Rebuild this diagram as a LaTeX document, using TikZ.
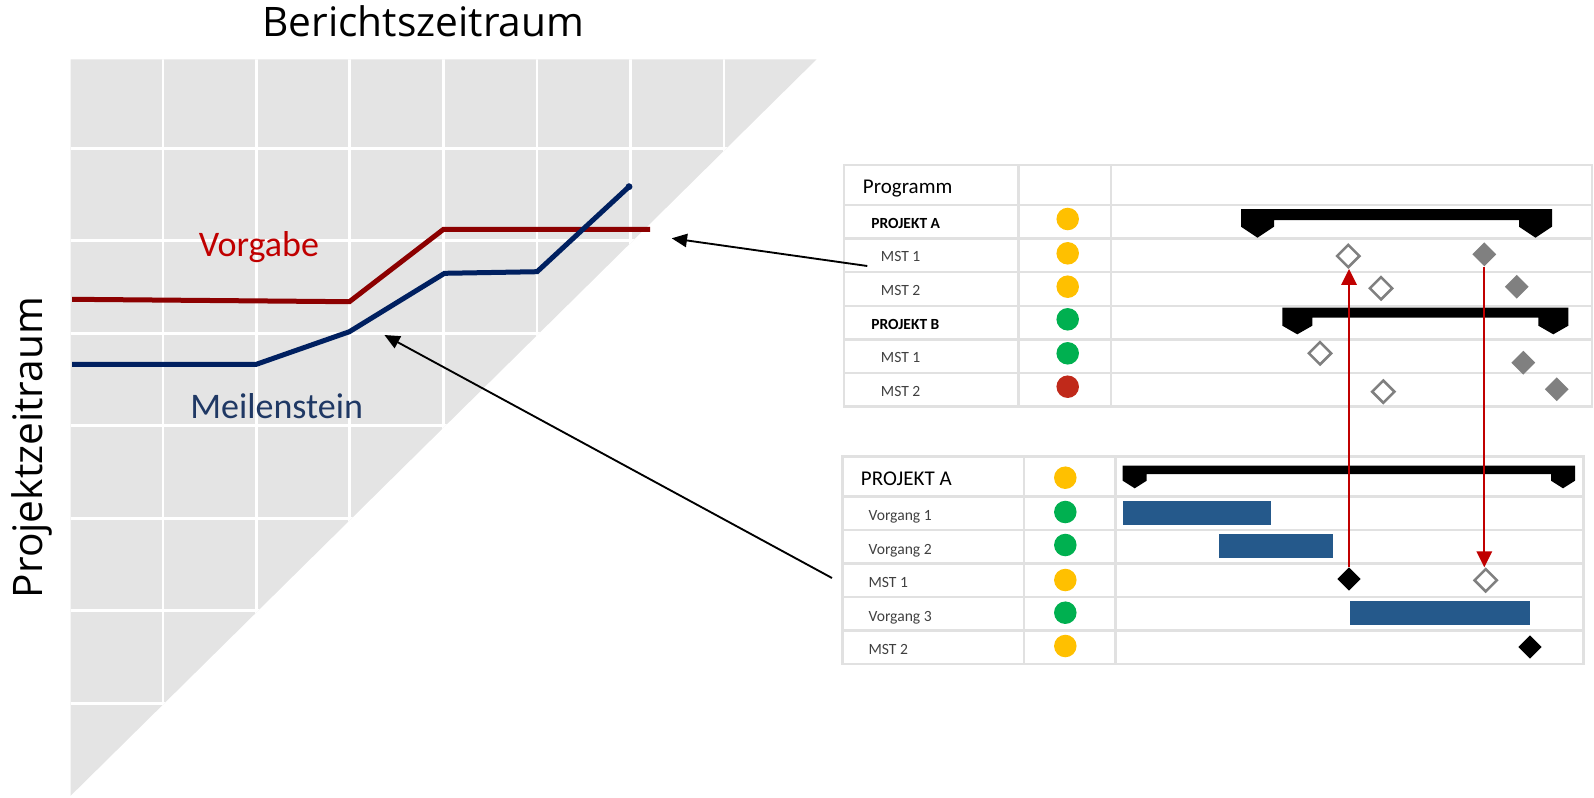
\documentclass[tikz,border=0pt]{standalone}
\usepackage{fontspec}
\setmainfont{Carlito}
\newfontfamily\osans{Open Sans}
\usetikzlibrary{shapes.geometric,arrows.meta}
\definecolor{trigray}{RGB}{228,228,228}
\definecolor{vred}{RGB}{140,0,0}
\definecolor{vtext}{RGB}{192,0,0}
\definecolor{mblue}{RGB}{0,32,96}
\definecolor{mtext}{RGB}{31,56,100}
\definecolor{tline}{RGB}{225,225,225}
\definecolor{ampy}{RGB}{255,192,0}
\definecolor{ampg}{RGB}{0,176,80}
\definecolor{ampr}{RGB}{192,41,26}
\definecolor{taskblue}{RGB}{37,89,139}
\definecolor{msgray}{RGB}{128,128,128}
\definecolor{arrred}{RGB}{192,0,0}
\definecolor{txtgray}{RGB}{64,64,64}
\newcommand\sumbar[7]{\fill (#1,#3) -- (#2,#3) -- (#2,#6) -- ({#2-#5/2},#7) -- ({#2-#5},#6) -- ({#2-#5},#4) -- ({#1+#5},#4) -- ({#1+#5},#6) -- ({#1+#5/2},#7) -- (#1,#6) -- cycle;}
\begin{document}
\begin{tikzpicture}[x=0.75pt,y=-0.75pt,
  tgrid/.style={draw=tline,line width=1.9pt},
  amp/.style={circle,inner sep=0pt,minimum size=16.9pt},
  msfill/.style={diamond,inner sep=0pt,minimum width=18pt,minimum height=18pt,fill=msgray},
  mshollow/.style={diamond,inner sep=0pt,minimum width=17.5pt,minimum height=17.5pt,draw=msgray,line width=1.9pt,fill=white},
  msblack/.style={diamond,inner sep=0pt,minimum width=17.6pt,minimum height=17.6pt,fill=black},
  task/.style={fill=taskblue},
  lbl/.style={anchor=base west,inner sep=0pt},
  hdr/.style={lbl,font=\fontsize{15.75pt}{18pt}\selectfont},
  projt/.style={lbl,font=\fontsize{11.6pt}{14pt}\selectfont\bfseries},
  subt/.style={lbl,font=\fontsize{11.7pt}{14pt}\selectfont,text=txtgray},
  redarr/.style={draw=arrred,line width=1.7pt,-{Triangle[length=12pt,width=11.5pt]}},
  blkarr/.style={draw=black,line width=1.4pt,-{Triangle[length=11.5pt,width=10pt]}},
  bigtitle/.style={font=\osans\fontsize{30.5pt}{36pt}\selectfont,anchor=base,inner sep=0pt},
  curvelbl/.style={font=\fontsize{27pt}{32pt}\selectfont,anchor=base,inner sep=0pt},
]
\useasboundingbox (0,0) rectangle (1594,797);
% left triangle grid
\fill[trigray] (70.6,59.3) -- (816.6,59.3) -- (70.6,795.8) -- cycle;
\begin{scope}
\clip (70.6,59.3) -- (816.6,59.3) -- (70.6,795.8) -- cycle;
\foreach \cx in {163,256.5,349.5,443.3,537,630.5,724}
  \draw[white,line width=2pt] (\cx,59.3) -- (\cx,795.8);
\foreach \ry in {148.3,240.8,333.3,425.8,518.3,610.8,703.3}
  \draw[white,line width=2pt] (70.6,\ry) -- (816.6,\ry);
\end{scope}
% curves
\draw[vred,line width=3.75pt] (72.2,299.3) -- (349.4,301.7) -- (443.5,229.3) -- (650,229.3);
\draw[mblue,line width=3.75pt] (72.2,364.3) -- (256.3,364.3) -- (349.4,331.7) -- (444.5,273.3) -- (537.1,271.7) -- (629,186.7);
\fill[mblue] (629,186.7) circle (2.6pt);
% titles
\node[bigtitle] (bz) at (423.3,36.7) {Berichtszeitraum};
\node[bigtitle,rotate=90] (pz) at (42,447.5) {Projektzeitraum};
\node[curvelbl,text=vtext] (vg) at (258.9,256) {Vorgabe};
\node[curvelbl,text=mtext] (ms) at (276.7,418.3) {Meilenstein};
% table 1
\draw[tgrid] (844,165) rectangle (1592,406.6);
\foreach \ry in {205,238.6,272.2,305.8,339.4,373}
  \draw[tgrid] (844,\ry) -- (1592,\ry);
\draw[tgrid] (1018.5,165) -- (1018.5,406.6);
\draw[tgrid] (1111,165) -- (1111,406.6);
\node[hdr] (t1h) at (862.7,193.3) {Programm};
\node[projt] (t1pa) at (871,228.3) {PROJEKT A};
\node[subt] (t1a1) at (880.7,261.7) {MST 1};
\node[subt] (t1a2) at (880.7,295.3) {MST 2};
\node[projt] (t1pb) at (871,329.1) {PROJEKT B};
\node[subt] (t1b1) at (880.7,362.5) {MST 1};
\node[subt] (t1b2) at (880.7,396.1) {MST 2};
\node[amp,fill=ampy] (c1) at (1067.7,219) {};
\node[amp,fill=ampy] (c2) at (1067.7,253.3) {};
\node[amp,fill=ampy] (c3) at (1067.7,286.7) {};
\node[amp,fill=ampg] (c4) at (1067.7,319.3) {};
\node[amp,fill=ampg] (c5) at (1067.7,353.3) {};
\node[amp,fill=ampr] (c6) at (1067.7,386.7) {};
\sumbar{1241}{1552}{209}{220}{33}{226.7}{237.7}
\sumbar{1282.3}{1568.3}{307.7}{317.7}{30}{325.7}{334.3}
\node[mshollow] (t1a1h) at (1348.3,256) {};
\node[msfill] (t1a1f) at (1484.3,254.3) {};
\node[mshollow] (t1a2h) at (1381,288.3) {};
\node[msfill] (t1a2f) at (1516.7,286.7) {};
\node[mshollow] (t1b1h) at (1320,353.3) {};
\node[msfill] (t1b1f) at (1523.3,362.7) {};
\node[mshollow] (t1b2h) at (1383.3,391.7) {};
\node[msfill] (t1b2f) at (1556.7,389.3) {};
% table 2
\draw[tgrid] (842.7,456.7) rectangle (1583.5,664.2);
\foreach \ry in {496.7,530.2,563.7,597.2,630.7}
  \draw[tgrid] (842.7,\ry) -- (1583.5,\ry);
\draw[tgrid] (1024,456.7) -- (1024,664.2);
\draw[tgrid] (1115.5,456.7) -- (1115.5,664.2);
\node[hdr] (t2h) at (860.7,485) {PROJEKT A};
\node[subt] (t2v1) at (868.3,520.7) {Vorgang 1};
\node[subt] (t2v2) at (868.3,554.2) {Vorgang 2};
\node[subt] (t2m1) at (868.3,587.7) {MST 1};
\node[subt] (t2v3) at (868.3,621.2) {Vorgang 3};
\node[subt] (t2m2) at (868.3,654.7) {MST 2};
\node[amp,fill=ampy] (d1) at (1065.3,477.7) {};
\node[amp,fill=ampg] (d2) at (1065.3,512) {};
\node[amp,fill=ampg] (d3) at (1065.3,545) {};
\node[amp,fill=ampy] (d4) at (1065.3,580) {};
\node[amp,fill=ampg] (d5) at (1065.3,612.7) {};
\node[amp,fill=ampy] (d6) at (1065.3,646) {};
\sumbar{1122.7}{1575}{465.7}{474}{24}{480.7}{488.3}
\fill[task] (1122.7,501) rectangle (1271,525);
\fill[task] (1219,534) rectangle (1332.7,557.7);
\fill[task] (1350,601) rectangle (1530,624.7);
\node[msblack] (t2m1b) at (1349,579) {};
\node[mshollow] (t2m1h) at (1485.7,580.3) {};
\node[msblack] (t2m2b) at (1530,647) {};
% red arrows
\draw[redarr] (t2m1b.north) -- (t2m1b.north |- t1a1h.south);
\draw[redarr] (t1a1f.south) -- (t1a1f.south |- t2m1h.north);
% black arrows
\coordinate (a1s) at (867.3,266);
\coordinate (a1e) at (671.7,238.3);
\draw[blkarr] (a1s) -- (a1e);
\coordinate (a2s) at (832,578);
\coordinate (a2e) at (384.4,335);
\draw[blkarr] (a2s) -- (a2e);
\end{tikzpicture}
\end{document}
